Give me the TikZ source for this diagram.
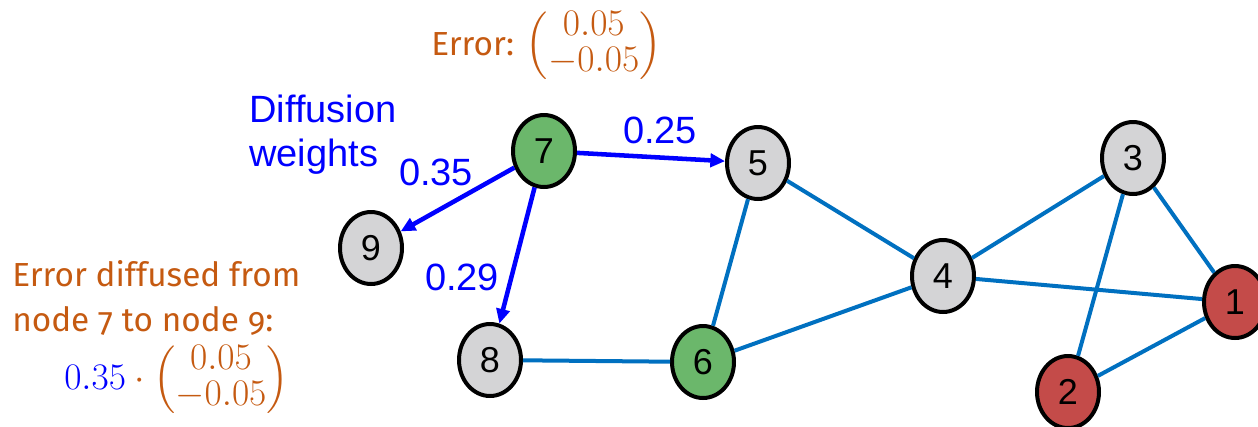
\documentclass[tikz,border=0pt]{standalone}
\usepackage{amsmath}
\usepackage{graphicx}
\usepackage{fontspec}
\setsansfont{Liberation Sans}
\newfontfamily\cand[Numbers=OldStyle]{Fira Sans}
\usetikzlibrary{shapes.geometric,arrows.meta}
\definecolor{errorange}{RGB}{197,90,17}
\definecolor{edgeblue}{RGB}{0,112,192}
\definecolor{vgray}{RGB}{212,212,214}
\definecolor{vgreen}{RGB}{107,183,107}
\definecolor{vred}{RGB}{196,75,73}
\tikzset{
  vtx/.style={ellipse,draw=black,line width=3pt,inner sep=0pt,minimum width=46.5pt,minimum height=54pt,font=\sffamily\fontsize{27}{30}\selectfont},
  edg/.style={draw=edgeblue,line width=3pt},
  wgt/.style={draw=blue,line width=3.4pt,-{Triangle[length=11pt,width=10pt]}},
  wlbl/.style={inner sep=0pt,text=blue,font=\sffamily\fontsize{28.5}{33}\selectfont},
  errtxt/.style={inner sep=0pt,text=errorange,font=\cand\fontsize{25}{34}\selectfont}
}
\newcommand{\errmat}{{\renewcommand{\arraystretch}{0.9}\delimiterfactor=800 \delimitershortfall=15pt
  \begin{pmatrix}0.05\\-0.05\end{pmatrix}}}
\newcommand{\bigmath}[1]{\scalebox{1.13}{\fontsize{24.88}{27}\selectfont$#1$}}
\begin{document}
\begin{tikzpicture}[x=0.75pt,y=0.75pt,yscale=-1,xscale=1]
\useasboundingbox (0,0) rectangle (1258,426);

% Vertices
\node [vtx,fill=vgreen] (n7) at (544,151) {7};
\node [vtx,fill=vgray] (n5) at (758,163) {5};
\node [vtx,fill=vgray] (n9) at (371,248) {9};
\node [vtx,fill=vgray] (n8) at (490,360) {8};
\node [vtx,fill=vgreen] (n6) at (703,362) {6};
\node [vtx,fill=vgray] (n4) at (943,276) {4};
\node [vtx,fill=vgray] (n3) at (1133,158) {3};
\node [vtx,fill=vred] (n1) at (1235,302) {1};
\node [vtx,fill=vred] (n2) at (1068,392) {2};

% Graph edges
\draw [edg] (n5) -- (n6);
\draw [edg] (n5) -- (n4);
\draw [edg] (n8) -- (n6);
\draw [edg] (n6) -- (n4);
\draw [edg] (n4) -- (n3);
\draw [edg] (n4) -- (n1);
\draw [edg] (n3) -- (n2);
\draw [edg] (n3) -- (n1);
\draw [edg] (n2) -- (n1);

% Diffusion weights
\draw [wgt] (n7) -- (n5);
\draw [wgt] (n7) -- (n9);
\draw [wgt] (n7) -- (n8);

% Text Node
\node [wlbl,anchor=west,align=left] (dwtxt) at (249,135) {Diffusion\\weights};
% Text Node
\node [wlbl] (w79) at (436,172) {0.35};
% Text Node
\node [wlbl] (w75) at (660,130) {0.25};
% Text Node
\node [wlbl] (w78) at (462,277) {0.29};
% Text Node
\node [errtxt,anchor=west] (err7) at (431,46) {Error: \bigmath{\errmat}};
% Text Node
\node [errtxt,anchor=north west,align=left] (errdiff) at (12,260) {Error diffused from\\node 7 to node 9:};
% Text Node
\node [errtxt,anchor=west] (errmul) at (64,380) {\bigmath{\textcolor{blue}{0.35}\cdot\errmat}};
\end{tikzpicture}
\end{document}
